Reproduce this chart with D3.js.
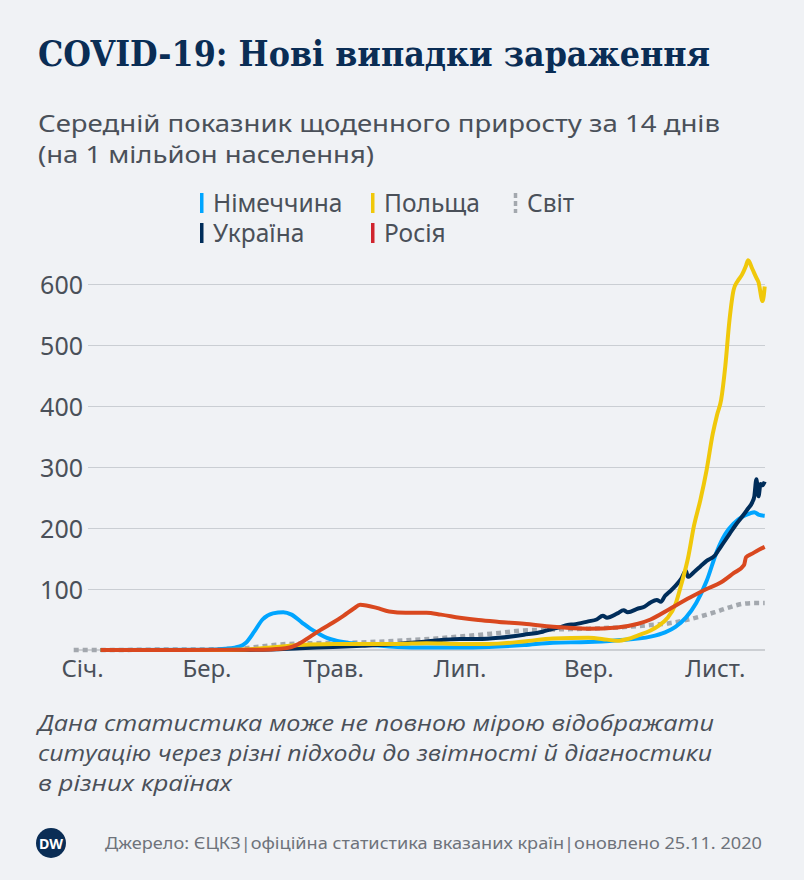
<!DOCTYPE html>
<html>
<head>
<meta charset="utf-8">
<script src="https://cdn.jsdelivr.net/npm/d3@7"></script>
<style>
  html, body { margin: 0; padding: 0; background: #F0F2F5; }
  svg { display: block; }
</style>
</head>
<body>
<svg id="chart" width="804" height="880"></svg>
<script>
// ---------------- DATA ----------------
const titleText = "COVID-19: Нові випадки зараження";
const subtitleLines = ["Середній показник щоденного приросту за 14 днів", "(на 1 мільйон населення)"];
const noteLines = [
  "Дана статистика може не повною мірою відображати",
  "ситуацію через різні підходи до звітності й діагностики",
  "в різних країнах"
];
const sourceText = "Джерело: ЄЦКЗ|офіційна статистика вказаних країн|оновлено 25.11. 2020";

const yTicks = [100, 200, 300, 400, 500, 600];
const xTickDates = ["2020-01-01", "2020-03-01", "2020-05-01", "2020-07-01", "2020-09-01", "2020-11-01"];
const xTickLabels = ["Січ.", "Бер.", "Трав.", "Лип.", "Вер.", "Лист."];

const world = [
  ["2019-12-28", 0], ["2020-01-20", 0.1], ["2020-02-10", 0.8], ["2020-03-01", 1], ["2020-03-15", 2],
  ["2020-03-25", 5], ["2020-04-05", 9], ["2020-04-20", 11], ["2020-05-10", 12], ["2020-06-01", 15],
  ["2020-06-20", 19], ["2020-07-01", 22], ["2020-07-20", 28], ["2020-08-01", 32], ["2020-08-20", 34],
  ["2020-09-01", 35], ["2020-09-20", 38], ["2020-10-01", 41], ["2020-10-10", 44], ["2020-10-18", 49],
  ["2020-10-25", 55], ["2020-11-01", 62], ["2020-11-08", 70], ["2020-11-15", 76], ["2020-11-20", 77],
  ["2020-11-25", 77]
];

const germany = [
  ["2020-01-10", 0], ["2020-03-01", 0.3], ["2020-03-10", 2], ["2020-03-17", 6], ["2020-03-20", 12],
  ["2020-03-24", 30], ["2020-03-28", 50], ["2020-04-02", 60], ["2020-04-07", 62], ["2020-04-11", 58],
  ["2020-04-16", 45], ["2020-04-20", 35], ["2020-04-24", 27], ["2020-04-28", 20], ["2020-05-03", 15],
  ["2020-05-10", 11], ["2020-05-20", 8], ["2020-06-01", 5], ["2020-06-15", 4], ["2020-07-01", 4],
  ["2020-07-15", 5], ["2020-08-01", 8], ["2020-08-15", 12], ["2020-09-01", 13], ["2020-09-15", 16],
  ["2020-10-01", 22], ["2020-10-08", 29], ["2020-10-13", 38], ["2020-10-18", 53], ["2020-10-23", 77],
  ["2020-10-28", 113], ["2020-11-02", 162], ["2020-11-06", 190], ["2020-11-10", 207], ["2020-11-14", 218],
  ["2020-11-18", 224], ["2020-11-20", 226], ["2020-11-22", 222], ["2020-11-25", 220]
];

const poland = [
  ["2020-01-10", 0], ["2020-03-10", 0.2], ["2020-03-20", 1], ["2020-04-01", 4], ["2020-04-10", 7],
  ["2020-04-20", 9], ["2020-05-01", 10], ["2020-05-15", 10], ["2020-06-01", 10], ["2020-06-15", 11],
  ["2020-07-01", 10], ["2020-07-15", 10], ["2020-08-01", 14], ["2020-08-15", 19], ["2020-09-01", 20],
  ["2020-09-10", 17], ["2020-09-15", 15], ["2020-09-20", 18], ["2020-09-25", 24], ["2020-10-01", 32],
  ["2020-10-05", 40], ["2020-10-09", 52], ["2020-10-13", 75], ["2020-10-16", 110], ["2020-10-19", 150],
  ["2020-10-22", 205], ["2020-10-25", 246], ["2020-10-28", 295], ["2020-10-31", 355], ["2020-11-02", 385],
  ["2020-11-04", 410], ["2020-11-06", 465], ["2020-11-08", 540], ["2020-11-10", 590], ["2020-11-12", 605],
  ["2020-11-14", 615], ["2020-11-16", 630], ["2020-11-17", 639], ["2020-11-19", 625], ["2020-11-21", 610],
  ["2020-11-22", 603], ["2020-11-24", 572], ["2020-11-25", 596]
];

const ukraine = [
  ["2020-01-10", 0], ["2020-03-15", 0], ["2020-04-01", 1], ["2020-04-15", 3], ["2020-05-01", 5],
  ["2020-05-15", 7], ["2020-06-01", 10], ["2020-06-15", 14], ["2020-07-01", 18], ["2020-07-10", 18],
  ["2020-07-20", 20], ["2020-08-01", 25], ["2020-08-10", 30], ["2020-08-14", 34], ["2020-08-18", 37],
  ["2020-08-22", 41], ["2020-08-25", 42], ["2020-09-01", 47], ["2020-09-05", 50], ["2020-09-08", 56],
  ["2020-09-10", 53], ["2020-09-15", 60], ["2020-09-18", 65], ["2020-09-20", 62], ["2020-09-25", 68],
  ["2020-09-28", 71], ["2020-10-01", 78], ["2020-10-04", 82], ["2020-10-06", 79], ["2020-10-08", 89],
  ["2020-10-10", 95], ["2020-10-13", 105], ["2020-10-16", 118], ["2020-10-18", 130], ["2020-10-19", 120],
  ["2020-10-22", 128], ["2020-10-25", 137], ["2020-10-28", 146], ["2020-11-01", 155], ["2020-11-03", 165],
  ["2020-11-05", 175], ["2020-11-08", 190], ["2020-11-11", 205], ["2020-11-14", 218], ["2020-11-17", 232],
  ["2020-11-19", 242], ["2020-11-20", 252], ["2020-11-21", 280], ["2020-11-22", 252], ["2020-11-23", 272],
  ["2020-11-24", 270], ["2020-11-25", 276]
];

const russia = [
  ["2020-01-10", 0], ["2020-03-20", 0.3], ["2020-04-01", 1], ["2020-04-10", 4], ["2020-04-15", 11],
  ["2020-04-20", 22], ["2020-04-25", 33], ["2020-05-01", 45], ["2020-05-06", 56], ["2020-05-11", 68],
  ["2020-05-14", 74], ["2020-05-17", 73], ["2020-05-22", 69], ["2020-05-28", 63], ["2020-06-05", 61],
  ["2020-06-15", 61], ["2020-06-22", 58], ["2020-07-01", 53], ["2020-07-10", 49], ["2020-07-20", 46],
  ["2020-08-01", 43], ["2020-08-15", 38], ["2020-09-01", 35], ["2020-09-15", 37], ["2020-09-25", 43],
  ["2020-10-01", 50], ["2020-10-10", 67], ["2020-10-20", 86], ["2020-10-28", 100], ["2020-11-04", 111],
  ["2020-11-10", 126], ["2020-11-15", 139], ["2020-11-16", 152], ["2020-11-19", 158], ["2020-11-22", 164],
  ["2020-11-25", 169]
];

const seriesNames = ["Світ", "Німеччина", "Україна", "Польща", "Росія"];
const seriesColors = ["#A3A8AE", "#00A5FF", "#002D5A", "#F0C80A", "#D9481F"];

const legendNames = ["Німеччина", "Польща", "Світ", "Україна", "Росія"];
const legendColors = ["#00A5FF", "#F0C80A", "#A3A8AE", "#002D5A", "#D0242E"];

// ---------------- DRAW ----------------
const svg = d3.select("#chart");
const parse = d3.utcParse("%Y-%m-%d");
const textColor = "#4A5059";

svg.append("rect").attr("width", 804).attr("height", 880).attr("fill", "#F0F2F5");

// Title
svg.append("text")
  .attr("x", 38).attr("y", 66)
  .attr("font-family", "'DejaVu Serif Condensed', 'DejaVu Serif', serif")
  .attr("font-weight", "bold")
  .attr("font-size", 36)
  .attr("fill", "#0A2D55")
  .attr("textLength", 672).attr("lengthAdjust", "spacingAndGlyphs")
  .text(titleText);

// Subtitle
svg.selectAll("text.sub").data(subtitleLines).join("text")
  .attr("class", "sub")
  .attr("x", 38).attr("y", (d, i) => 132 + i * 31)
  .attr("font-family", "'Noto Sans', sans-serif")
  .attr("font-size", 24)
  .attr("fill", textColor)
  .attr("textLength", (d, i) => i === 0 ? 682 : 336)
  .attr("lengthAdjust", "spacingAndGlyphs")
  .text(d => d);

// Legend
const legendPos = [[200, 203], [371, 203], [514, 203], [200, 233], [371, 233]];
const lg = svg.append("g");
legendNames.forEach((name, i) => {
  const [lx, ly] = legendPos[i];
  if (name === "Світ") {
    lg.append("line").attr("x1", lx + 1.5).attr("x2", lx + 1.5)
      .attr("y1", ly - 10).attr("y2", ly + 10)
      .attr("stroke", legendColors[i]).attr("stroke-width", 3.5)
      .attr("stroke-dasharray", "5,3");
  } else {
    lg.append("rect").attr("x", lx).attr("y", ly - 10).attr("width", 3.5).attr("height", 20)
      .attr("fill", legendColors[i]);
  }
  lg.append("text").attr("x", lx + 13).attr("y", ly + 8.5)
    .attr("font-family", "'Noto Sans', sans-serif")
    .attr("font-size", 24.5)
    .attr("fill", textColor)
    .text(name);
});

// Scales
const x = d3.scaleUtc()
  .domain([parse("2020-01-01"), parse("2020-11-25")])
  .range([82, 764.7]);
const y = d3.scaleLinear().domain([0, 600]).range([650, 284]);

// Y axis with gridlines
const yAxis = d3.axisLeft(y).tickValues(yTicks).tickSize(-(765 - 88)).tickPadding(5);
const gy = svg.append("g").attr("transform", "translate(88,0)").call(yAxis);
gy.select(".domain").remove();
gy.selectAll(".tick line").attr("stroke", "#CACED3").attr("stroke-width", 1);
gy.selectAll(".tick text")
  .attr("font-family", "'Noto Sans', sans-serif")
  .attr("font-size", 25)
  .attr("fill", textColor)
  .attr("dy", "0.36em");

// Baseline
svg.append("line").attr("x1", 75).attr("x2", 765).attr("y1", y(0)).attr("y2", y(0))
  .attr("stroke", "#A7ACB2").attr("stroke-width", 1.2);

// X axis
const xAxis = d3.axisBottom(x)
  .tickValues(xTickDates.map(parse))
  .tickFormat((d, i) => xTickLabels[i])
  .tickSize(0).tickPadding(10);
const gx = svg.append("g").attr("transform", `translate(0,${y(0)})`).call(xAxis);
gx.select(".domain").remove();
gx.selectAll(".tick text")
  .attr("font-family", "'Noto Sans', sans-serif")
  .attr("font-size", 24)
  .attr("fill", textColor);

// Lines
const line = d3.line()
  .x(d => x(parse(d[0])))
  .y(d => y(d[1]))
  .curve(d3.curveMonotoneX);

const allSeries = [world, germany, ukraine, poland, russia];
allSeries.forEach((data, i) => {
  const p = svg.append("path")
    .datum(data)
    .attr("d", line)
    .attr("fill", "none")
    .attr("stroke", seriesColors[i])
    .attr("stroke-width", 4)
    .attr("stroke-linejoin", "round");
  if (seriesNames[i] === "Світ") {
    p.attr("stroke-dasharray", "5,4").attr("stroke-width", 4.5);
  }
});

// Note
svg.selectAll("text.note").data(noteLines).join("text")
  .attr("class", "note")
  .attr("x", 38).attr("y", (d, i) => 731 + i * 30)
  .attr("font-family", "'Open Sans', sans-serif")
  .attr("font-style", "italic")
  .attr("font-size", 22)
  .attr("fill", textColor)
  .attr("textLength", (d, i) => [676, 674, 194][i])
  .attr("lengthAdjust", "spacingAndGlyphs")
  .text(d => d);

// DW logo
const logo = svg.append("g").attr("transform", "translate(51,843)");
logo.append("circle").attr("r", 15).attr("fill", "#0A2D55");
logo.append("text").attr("text-anchor", "middle").attr("y", 5.5)
  .attr("font-family", "'Noto Sans', sans-serif").attr("font-weight", "bold")
  .attr("font-size", 15).attr("fill", "#FFFFFF")
  .attr("textLength", 24).attr("lengthAdjust", "spacingAndGlyphs")
  .text("DW");

// Source
svg.append("text")
  .attr("x", 105).attr("y", 849)
  .attr("font-family", "'Noto Sans', sans-serif")
  .attr("font-size", 17)
  .attr("fill", "#6E737B")
  .attr("textLength", 657).attr("lengthAdjust", "spacingAndGlyphs")
  .text(sourceText);
</script>
</body>
</html>
